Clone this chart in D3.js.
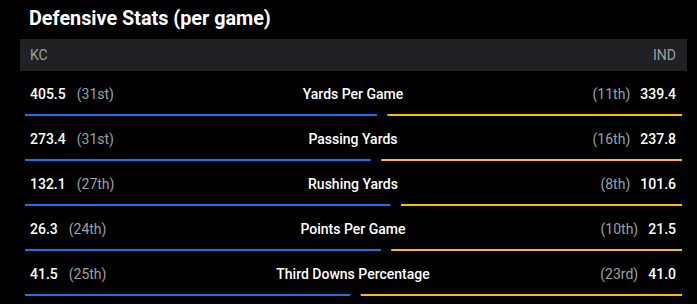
<!DOCTYPE html>
<html>
<head>
<meta charset="utf-8">
<script src="https://cdn.jsdelivr.net/npm/d3@7"></script>
<style>
  html, body { margin: 0; padding: 0; background: #000; }
  svg { display: block; font-family: Roboto, "Noto Sans", sans-serif; }
</style>
</head>
<body>
<div id="chart"></div>
<script>
const categories = ["Yards Per Game", "Passing Yards", "Rushing Yards", "Points Per Game", "Third Downs Percentage"];
const kcValues = [405.5, 273.4, 132.1, 26.3, 41.5];
const kcRanks = ["31st", "31st", "27th", "24th", "25th"];
const indValues = [339.4, 237.8, 101.6, 21.5, 41.0];
const indRanks = ["11th", "16th", "8th", "10th", "23rd"];
const teams = ["KC", "IND"];

const width = 697, height = 304;
const barLeft = 25, barRight = 682, gap = 10.5;

const svg = d3.select("#chart").append("svg")
    .attr("width", width)
    .attr("height", height);

svg.append("rect")
    .attr("width", width)
    .attr("height", height)
    .attr("fill", "#000");

svg.append("text")
    .attr("x", 29)
    .attr("y", 25)
    .attr("fill", "#fff")
    .style("font-size", "19.8px")
    .style("font-weight", 700)
    .text("Defensive Stats (per game)");

// header bar
svg.append("rect")
    .attr("x", 20)
    .attr("y", 39)
    .attr("width", 667)
    .attr("height", 32)
    .attr("fill", "#202124");

svg.append("text")
    .attr("x", 30)
    .attr("y", 60)
    .attr("fill", "#9aa0a6")
    .style("font-size", "14px")
    .text(teams[0]);

svg.append("text")
    .attr("x", 676)
    .attr("y", 60)
    .attr("text-anchor", "end")
    .attr("fill", "#9aa0a6")
    .style("font-size", "14px")
    .text(teams[1]);

const y = d3.scaleBand()
    .domain(categories)
    .range([72, 297]);

const fmt = d3.format(".1f");

categories.forEach(function(cat, i) {
    const g = svg.append("g")
        .attr("transform", `translate(0, ${y(cat)})`);

    const total = kcValues[i] + indValues[i];
    const x = d3.scaleLinear()
        .domain([0, total])
        .range([0, barRight - barLeft - gap]);

    // left value + rank
    const kcText = g.append("text")
        .attr("x", 30)
        .attr("y", 27)
        .attr("fill", "#fff")
        .style("font-size", "14px")
        .style("font-weight", 500)
        .text(fmt(kcValues[i]));
    const kcW = kcText.node().getComputedTextLength();
    g.append("text")
        .attr("x", 30 + kcW + 11)
        .attr("y", 27)
        .attr("fill", "#9aa0a6")
        .style("font-size", "14px")
        .text(`(${kcRanks[i]})`);

    // center label
    g.append("text")
        .attr("x", 353)
        .attr("y", 27)
        .attr("text-anchor", "middle")
        .attr("fill", "#fff")
        .style("font-size", "14px")
        .style("font-weight", 500)
        .text(cat);

    // right value + rank
    const indText = g.append("text")
        .attr("x", 676)
        .attr("y", 27)
        .attr("text-anchor", "end")
        .attr("fill", "#fff")
        .style("font-size", "14px")
        .style("font-weight", 500)
        .text(fmt(indValues[i]));
    const indW = indText.node().getComputedTextLength();
    g.append("text")
        .attr("x", 676 - indW - 10)
        .attr("y", 27)
        .attr("text-anchor", "end")
        .attr("fill", "#9aa0a6")
        .style("font-size", "14px")
        .text(`(${indRanks[i]})`);

    // bars
    g.append("rect")
        .attr("x", barLeft)
        .attr("y", 42)
        .attr("width", x(kcValues[i]))
        .attr("height", 2)
        .attr("fill", "#1a73e8");
    g.append("rect")
        .attr("x", barLeft + x(kcValues[i]) + gap)
        .attr("y", 42)
        .attr("width", x(indValues[i]))
        .attr("height", 2)
        .attr("fill", "#fbbc04");
});
</script>
</body>
</html>
